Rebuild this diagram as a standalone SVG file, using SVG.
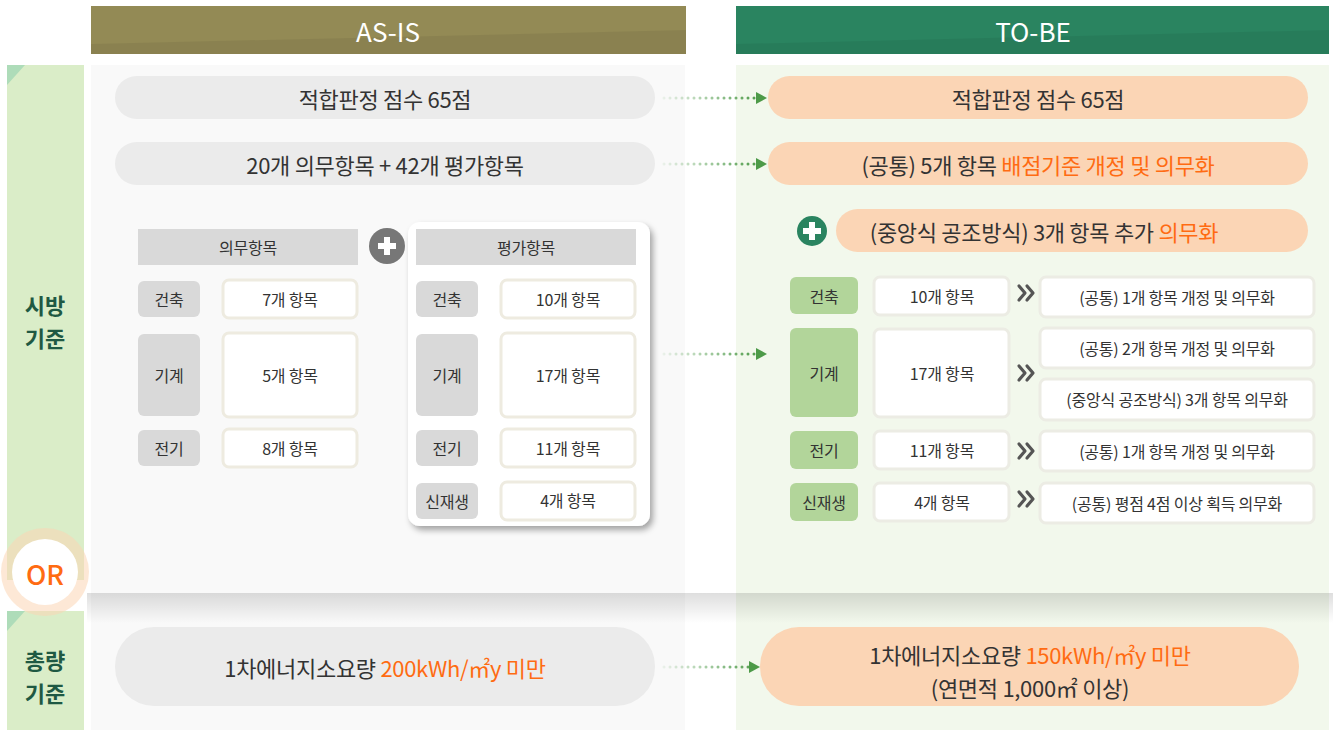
<svg xmlns="http://www.w3.org/2000/svg" width="1333" height="730" viewBox="0 0 1333 730">
<defs>
<style>
text{font-family:"Noto Sans CJK KR","Noto Sans",sans-serif;dominant-baseline:central;text-anchor:middle;}
.hd{fill:#fff;font-size:26px;}
.pl{fill:#333;font-size:22px;letter-spacing:-0.3px}
.t{fill:#333;font-size:16px;letter-spacing:-0.2px}
.o{fill:#FF6B12}
.lab{fill:#1F5943;font-size:22px;font-weight:700}
.gpill{fill:#EBEBEB}
.opill{fill:#FBD5B5}
.ghd{fill:#D9D9D9}
.val{fill:#fff;stroke:#EEEBE0;stroke-width:3}
.tlab{fill:#B2D59A}
.tval{fill:#fff;stroke:#ECECE4;stroke-width:3}
.dots{stroke:url(#dg);stroke-width:3;stroke-linecap:round;stroke-dasharray:0 6;fill:none}
.ah{fill:#4D9A48}
.chev{fill:none;stroke:#555;stroke-width:3.2;stroke-linecap:round;stroke-linejoin:round}
</style>
<linearGradient id="dg" gradientUnits="userSpaceOnUse" x1="662" y1="0" x2="760" y2="0">
<stop offset="0" stop-color="#4D9A48" stop-opacity="0.08"/>
<stop offset="1" stop-color="#4D9A48" stop-opacity="1"/>
</linearGradient>
<linearGradient id="sh" x1="0" y1="0" x2="0" y2="1">
<stop offset="0" stop-color="#000" stop-opacity="0.13"/>
<stop offset="1" stop-color="#000" stop-opacity="0"/>
</linearGradient>
<filter id="cs" x="-10%" y="-10%" width="125%" height="125%">
<feDropShadow dx="3" dy="4" stdDeviation="3" flood-color="#000" flood-opacity="0.35"/>
</filter>
</defs>

<g id="background">
<rect x="91" y="65" width="594" height="665" fill="#F9F9F9"/>
<rect x="736" y="65" width="593" height="665" fill="#F2F8EC"/>
<rect x="87" y="593" width="1246" height="30" fill="url(#sh)"/>
</g>

<g id="header-asis">
<rect x="91" y="6" width="595" height="48" fill="#938A55"/>
<polygon points="91,44 686,30 686,54 91,54" fill="#000" opacity="0.06"/>
<text class="hd" x="388" y="30">AS-IS</text>
</g>
<g id="header-tobe">
<rect x="736" y="6" width="593" height="48" fill="#2A8460"/>
<polygon points="736,44 1329,30 1329,54 736,54" fill="#000" opacity="0.06"/>
<text class="hd" x="1033" y="30">TO-BE</text>
</g>

<g id="label-sibang">
<rect x="7" y="65" width="77" height="515" fill="#DAEDC8"/>
<polygon points="7,65 25,65 7,85" fill="#AEDCB9"/>
<text class="lab" x="45" y="304">시방</text>
<text class="lab" x="45" y="337">기준</text>
</g>
<g id="label-chongryang">
<rect x="7" y="611" width="77" height="119" fill="#DAEDC8"/>
<polygon points="7,611 25,611 7,631" fill="#AEDCB9"/>
<text class="lab" x="45" y="659">총량</text>
<text class="lab" x="45" y="692">기준</text>
</g>
<g id="or-badge">
<circle cx="45" cy="572" r="44" fill="#FBD5B5" opacity="0.55"/>
<circle cx="45" cy="572" r="33" fill="#fff"/>
<text x="45" y="573" style="font-size:27px;font-weight:500;fill:#FF6B12">OR</text>
</g>

<g id="asis-score">
<rect class="gpill" x="115" y="76" width="540" height="43" rx="21.5"/>
<text class="pl" x="385" y="98">적합판정 점수 65점</text>
</g>
<g id="asis-items">
<rect class="gpill" x="115" y="142" width="540" height="43" rx="21.5"/>
<text class="pl" x="385" y="164">20개 의무항목 + 42개 평가항목</text>
</g>

<g id="asis-mandatory">
<rect class="ghd" x="138" y="229" width="220" height="36"/>
<text class="t" x="248" y="247">의무항목</text>
<rect class="ghd" x="138" y="281" width="62" height="36" rx="6"/>
<text class="t" x="169" y="299">건축</text>
<rect class="val" x="223" y="280" width="134" height="38" rx="6"/>
<text class="t" x="290" y="299">7개 항목</text>
<rect class="ghd" x="138" y="334" width="62" height="82" rx="6"/>
<text class="t" x="169" y="375">기계</text>
<rect class="val" x="223" y="333" width="134" height="84" rx="6"/>
<text class="t" x="290" y="375">5개 항목</text>
<rect class="ghd" x="138" y="430" width="62" height="36" rx="6"/>
<text class="t" x="169" y="448">전기</text>
<rect class="val" x="223" y="429" width="134" height="38" rx="6"/>
<text class="t" x="290" y="448">8개 항목</text>
</g>
<g id="asis-plus">
<circle cx="387" cy="246" r="18" fill="#777"/>
<rect x="378" y="243" width="18" height="6" fill="#fff"/>
<rect x="384" y="237" width="6" height="18" fill="#fff"/>
</g>
<g id="asis-evaluation">
<rect x="408" y="222" width="242" height="304" rx="12" fill="#fff" filter="url(#cs)"/>
<rect class="ghd" x="416" y="229" width="220" height="36"/>
<text class="t" x="526" y="247">평가항목</text>
<rect class="ghd" x="416" y="281" width="62" height="36" rx="6"/>
<text class="t" x="447" y="299">건축</text>
<rect class="val" x="501" y="280" width="134" height="38" rx="6"/>
<text class="t" x="568" y="299">10개 항목</text>
<rect class="ghd" x="416" y="334" width="62" height="82" rx="6"/>
<text class="t" x="447" y="375">기계</text>
<rect class="val" x="501" y="333" width="134" height="84" rx="6"/>
<text class="t" x="568" y="375">17개 항목</text>
<rect class="ghd" x="416" y="430" width="62" height="36" rx="6"/>
<text class="t" x="447" y="448">전기</text>
<rect class="val" x="501" y="429" width="134" height="38" rx="6"/>
<text class="t" x="568" y="448">11개 항목</text>
<rect class="ghd" x="416" y="483" width="62" height="36" rx="6"/>
<text class="t" x="447" y="501">신재생</text>
<rect class="val" x="501" y="482" width="134" height="38" rx="6"/>
<text class="t" x="568" y="500">4개 항목</text>
</g>

<g id="asis-total">
<rect class="gpill" x="115" y="627" width="540" height="79" rx="39"/>
<text class="pl" x="385" y="667">1차에너지소요량 <tspan class="o">200kWh/㎡y 미만</tspan></text>
</g>

<g id="tobe-score">
<rect class="opill" x="768" y="76" width="540" height="43" rx="21.5"/>
<text class="pl" x="1038" y="98">적합판정 점수 65점</text>
</g>
<g id="tobe-common">
<rect class="opill" x="768" y="142" width="540" height="43" rx="21.5"/>
<text class="pl" x="1038" y="164">(공통) 5개 항목 <tspan class="o">배점기준 개정 및 의무화</tspan></text>
</g>
<g id="tobe-plus">
<circle cx="812" cy="231" r="15" fill="#2A8460"/>
<rect x="803" y="228" width="18" height="6" fill="#fff"/>
<rect x="809" y="222" width="6" height="18" fill="#fff"/>
</g>
<g id="tobe-central">
<rect class="opill" x="836" y="209" width="472" height="43" rx="21.5"/>
<text class="pl" x="1044" y="231">(중앙식 공조방식) 3개 항목 추가 <tspan class="o">의무화</tspan></text>
</g>

<g id="tobe-table">
<rect class="tlab" x="790" y="277" width="68" height="37" rx="6"/>
<text class="t" x="824" y="296">건축</text>
<rect class="tval" x="874" y="277" width="135" height="38" rx="6"/>
<text class="t" x="942" y="296">10개 항목</text>
<polyline class="chev" points="1019,286 1025,293 1019,300"/>
<polyline class="chev" points="1027,286 1033,293 1027,300"/>
<rect class="tval" x="1040" y="277" width="274" height="40" rx="6"/>
<text class="t" x="1177" y="297">(공통) 1개 항목 개정 및 의무화</text>

<rect class="tlab" x="790" y="328" width="68" height="89" rx="6"/>
<text class="t" x="824" y="373">기계</text>
<rect class="tval" x="874" y="329" width="135" height="88" rx="6"/>
<text class="t" x="942" y="373">17개 항목</text>
<polyline class="chev" points="1019,366 1025,373 1019,380"/>
<polyline class="chev" points="1027,366 1033,373 1027,380"/>
<rect class="tval" x="1040" y="328" width="274" height="40" rx="6"/>
<text class="t" x="1177" y="348">(공통) 2개 항목 개정 및 의무화</text>
<rect class="tval" x="1040" y="379" width="274" height="41" rx="6"/>
<text class="t" x="1177" y="399">(중앙식 공조방식) 3개 항목 의무화</text>

<rect class="tlab" x="790" y="431" width="68" height="38" rx="6"/>
<text class="t" x="824" y="450">전기</text>
<rect class="tval" x="874" y="431" width="135" height="38" rx="6"/>
<text class="t" x="942" y="450">11개 항목</text>
<polyline class="chev" points="1019,444 1025,451 1019,458"/>
<polyline class="chev" points="1027,444 1033,451 1027,458"/>
<rect class="tval" x="1040" y="431" width="274" height="40" rx="6"/>
<text class="t" x="1177" y="451">(공통) 1개 항목 개정 및 의무화</text>

<rect class="tlab" x="790" y="483" width="68" height="38" rx="6"/>
<text class="t" x="824" y="502">신재생</text>
<rect class="tval" x="874" y="483" width="135" height="38" rx="6"/>
<text class="t" x="942" y="502">4개 항목</text>
<polyline class="chev" points="1019,492 1025,499 1019,506"/>
<polyline class="chev" points="1027,492 1033,499 1027,506"/>
<rect class="tval" x="1040" y="483" width="274" height="40" rx="6"/>
<text class="t" x="1177" y="503">(공통) 평점 4점 이상 획득 의무화</text>
</g>

<g id="tobe-total">
<rect class="opill" x="760" y="627" width="539" height="79" rx="39"/>
<text class="pl" x="1030" y="654">1차에너지소요량 <tspan class="o">150kWh/㎡y 미만</tspan></text>
<text class="pl" x="1030" y="687">(연면적 1,000㎡ 이상)</text>
</g>

<g id="connectors">
<line class="dots" x1="664" y1="98" x2="757" y2="98"/>
<polygon class="ah" points="756,92 767,98 756,104"/>
<line class="dots" x1="664" y1="164" x2="757" y2="164"/>
<polygon class="ah" points="756,158 767,164 756,170"/>
<line class="dots" x1="664" y1="354" x2="757" y2="354"/>
<polygon class="ah" points="756,348 767,354 756,360"/>
<line class="dots" x1="664" y1="667" x2="750" y2="667"/>
<polygon class="ah" points="749,661 760,667 749,673"/>
</g>
</svg>
